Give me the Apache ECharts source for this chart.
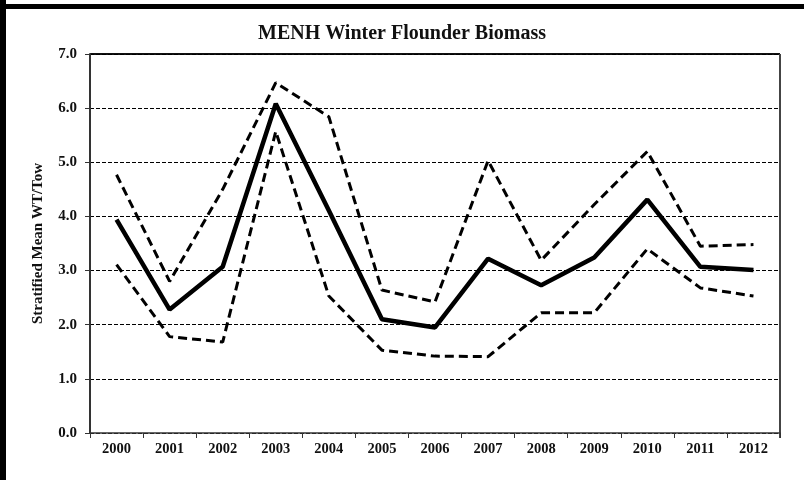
<!DOCTYPE html>
<html>
<head>
<meta charset="utf-8">
<script src="https://cdn.jsdelivr.net/npm/echarts@6/dist/echarts.min.js"></script>
<style>
  html, body { margin: 0; padding: 0; background: #fff; }
  #chart { width: 804px; height: 480px; }
</style>
</head>
<body>
<div id="chart"></div>
<script>
var years = ['2000', '2001', '2002', '2003', '2004', '2005', '2006', '2007', '2008', '2009', '2010', '2011', '2012'];
var meanWt = [3.94, 2.28, 3.07, 6.08, 4.11, 2.10, 1.95, 3.22, 2.73, 3.24, 4.31, 3.07, 3.01];
var upperCI = [4.77, 2.80, 4.50, 6.47, 5.84, 2.64, 2.42, 5.03, 3.19, 4.22, 5.20, 3.45, 3.48];
var lowerCI = [3.11, 1.78, 1.68, 5.57, 2.53, 1.53, 1.42, 1.41, 2.22, 2.22, 3.40, 2.68, 2.53];

var chart = echarts.init(document.getElementById('chart'));
var font = 'Liberation Serif';

var option = {
    backgroundColor: '#fff',
    animation: false,
    title: {
        text: 'MENH Winter Flounder Biomass',
        left: 'center',
        top: 19,
        textStyle: { fontFamily: font, fontWeight: 'bold', fontSize: 20, color: '#111' }
    },
    grid: { left: 90, right: 24, top: 54, bottom: 47, show: false },
    graphic: [
        // frame pieces of the scanned picture
        { type: 'rect', shape: { x: 0, y: 4, width: 804, height: 5 }, style: { fill: '#000' } },
        { type: 'rect', shape: { x: 0, y: 0, width: 6, height: 480 }, style: { fill: '#000' } },
        // plot border top and right
        { type: 'line', shape: { x1: 90, y1: 54, x2: 780, y2: 54 }, style: { stroke: '#111', lineWidth: 2 } },
        { type: 'line', shape: { x1: 780, y1: 54, x2: 780, y2: 438 }, style: { stroke: '#444', lineWidth: 2 } }
    ],
    xAxis: {
        type: 'category',
        data: years,
        boundaryGap: true,
        axisLine: { lineStyle: { color: '#333', width: 1.5 } },
        axisTick: { show: true, alignWithLabel: false, length: 5, lineStyle: { color: '#333' } },
        axisLabel: { fontFamily: font, fontWeight: 'bold', fontSize: 14.5, color: '#111', margin: 9 }
    },
    yAxis: {
        type: 'value',
        min: 0,
        max: 7,
        interval: 1,
        name: 'Stratified Mean WT/Tow',
        nameLocation: 'middle',
        nameGap: 44,
        nameTextStyle: { fontFamily: font, fontWeight: 'bold', fontSize: 15, color: '#111' },
        axisLine: { show: true, lineStyle: { color: '#333', width: 2 } },
        axisTick: { show: true, length: 5, lineStyle: { color: '#333' } },
        axisLabel: {
            fontFamily: font, fontWeight: 'bold', fontSize: 15, color: '#111', margin: 13,
            formatter: function (v) { return v.toFixed(1); }
        },
        splitLine: { show: true, lineStyle: { color: '#000', type: [4, 2], width: 1 } }
    },
    series: [
        {
            name: 'Upper',
            type: 'line',
            data: upperCI,
            symbol: 'none',
            lineStyle: { color: '#000', width: 3, type: [9, 5] }
        },
        {
            name: 'Lower',
            type: 'line',
            data: lowerCI,
            symbol: 'none',
            lineStyle: { color: '#000', width: 3, type: [9, 5] }
        },
        {
            name: 'Mean',
            type: 'line',
            data: meanWt,
            symbol: 'none',
            lineStyle: { color: '#000', width: 4.5 }
        }
    ]
};
chart.setOption(option);
</script>
</body>
</html>
